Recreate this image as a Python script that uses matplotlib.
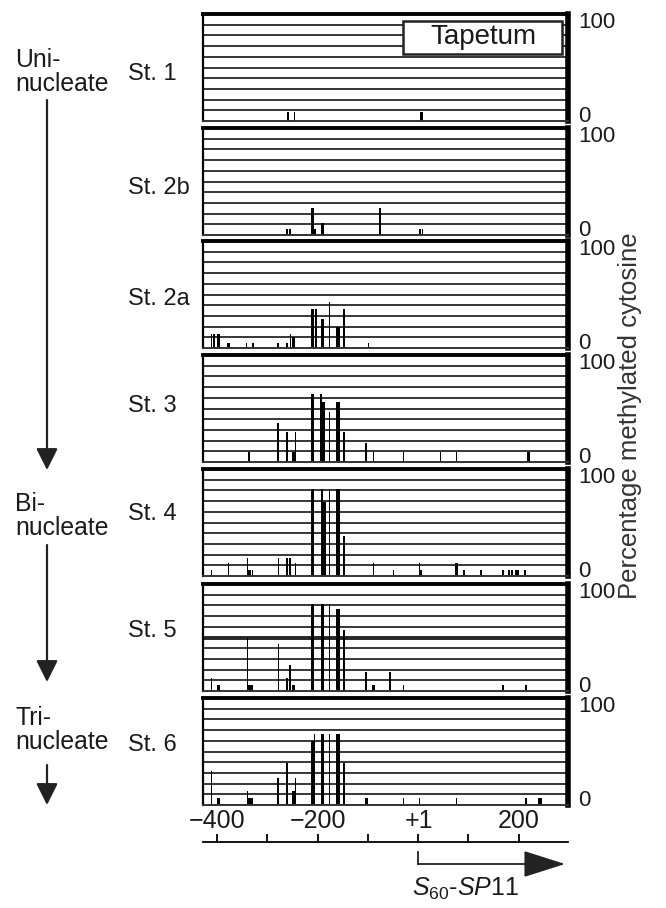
import matplotlib
matplotlib.use("Agg")
import matplotlib.pyplot as plt
from matplotlib.patches import Rectangle, FancyArrowPatch
from matplotlib.lines import Line2D
from matplotlib.transforms import blended_transform_factory

plt.rcParams['font.family'] = ['Liberation Sans', 'DejaVu Sans']
plt.rcParams['mathtext.fontset'] = 'custom'
plt.rcParams['mathtext.it'] = 'Liberation Sans:italic'
plt.rcParams['mathtext.rm'] = 'Liberation Sans'

# ---------------- data ----------------
stages = ["St. 1", "St. 2b", "St. 2a", "St. 3", "St. 4", "St. 5", "St. 6"]
groups = ["Uni-\nnucleate", "Bi-\nnucleate", "Tri-\nnucleate"]

st1_pos = [-259, -246, 5, 8]
st1_pct = [8, 8, 8, 8]

st2b_pos = [-261, -255, -212, -209, -205, -191, -188, -76, 4, 9]
st2b_pct = [6, 6, 25, 25, 6, 11, 11, 25, 6, 6]

st2a_pos = [-411, -406, -399, -396, -379, -376, -341, -329, -279, -261, -254,
            -249, -246, -212, -209, -203, -191, -188, -176, -161, -157, -148, -99]
st2a_pct = [13, 13, 13, 13, 5, 5, 5, 5, 5, 5, 13,
            10, 10, 36, 36, 36, 27, 27, 43, 20, 20, 36, 5]

st3_pos = [-337, -279, -261, -249, -246, -244, -212, -209, -193, -189, -186,
           -176, -161, -157, -148, -104, -89, -29, 44, 76, 217, 220]
st3_pct = [9, 36, 28, 9, 9, 28, 64, 64, 64, 56, 56,
           47, 56, 56, 28, 18, 9, 9, 9, 9, 9, 9]

st4_pos = [-411, -377, -339, -337, -334, -330, -278, -261, -255, -244, -212, -209,
           -191, -188, -185, -176, -161, -157, -148, -89, -49, 3, 6, 74, 77, 91,
           125, 169, 181, 187, 194, 197, 200, 212]
st4_pct = [6, 12, 17, 6, 6, 6, 17, 17, 17, 12, 81, 81,
           81, 69, 69, 81, 81, 81, 37, 12, 6, 12, 6, 12, 12, 6,
           6, 6, 6, 6, 6, 6, 6, 6]

st5_pos = [-411, -399, -396, -339, -336, -333, -330, -278, -261, -255, -249, -246,
           -212, -209, -191, -188, -176, -161, -157, -148, -104, -90, -87, -56,
           -29, 169, 214]
st5_pct = [12, 6, 6, 50, 6, 6, 6, 44, 12, 24, 6, 6,
           81, 81, 81, 81, 81, 77, 77, 57, 18, 6, 6, 18,
           6, 6, 6]

st6_pos = [-411, -399, -396, -339, -336, -333, -330, -279, -261, -249, -246, -244,
           -212, -209, -206, -191, -188, -176, -161, -157, -148, -104, -101, -29,
           3, 76, 214, 240, 244]
st6_pct = [32, 7, 7, 13, 7, 7, 7, 25, 39, 13, 13, 25,
           60, 60, 66, 66, 66, 66, 66, 66, 39, 7, 7, 7,
           7, 7, 7, 7, 7]

all_pos = [st1_pos, st2b_pos, st2a_pos, st3_pos, st4_pos, st5_pos, st6_pos]
all_pct = [st1_pct, st2b_pct, st2a_pct, st3_pct, st4_pct, st5_pct, st6_pct]

x_ticks_all = [-400, -200, 1, 200]
x_tick_labels = ["\u2212400", "\u2212200", "+1", "200"]
scale_ticks = [-400, -300, -200, -100, 0, 100, 200]
y_label = "Percentage methylated cytosine"

# ---------------- layout ----------------
W, H = 666, 908
fig = plt.figure(figsize=(W / 100, H / 100), dpi=100)


def px_rect(x0, y0, x1, y1):
    return [x0 / W, 1 - y1 / H, (x1 - x0) / W, (y1 - y0) / H]


XL, XR = 203, 568
tops = [14, 128, 241, 355, 469, 584, 698]
stage_y = [74, 188, 299, 406, 514, 631, 745]
ph = 107
xlim = (-428, 298)
ink = '#1a1a1a'

axes = []
for i, (pos, pct) in enumerate(zip(all_pos, all_pct)):
    ax = fig.add_axes(px_rect(XL, tops[i], XR, tops[i] + ph))
    axes.append(ax)
    ax.set_xlim(*xlim)
    ax.set_ylim(0, 100)
    for g in range(10, 100, 10):
        lw = 2.8 if (i == 5 and g == 50) else 1.3
        ax.axhline(g, color='#262626', lw=lw, zorder=1)
    ax.bar(pos, pct, width=3.0, bottom=0, color='black', linewidth=0, zorder=2)
    ax.spines['top'].set_linewidth(2.8)
    ax.spines['right'].set_linewidth(4.0)
    ax.spines['left'].set_linewidth(1.6)
    ax.spines['bottom'].set_linewidth(1.4)
    ax.spines['bottom'].set_color('#333333')
    ax.set_yticks([])
    # right-hand 0 / 100 labels
    ax.annotate("100", xy=(1, 1), xycoords='axes fraction', xytext=(10, -6),
                textcoords='offset pixels', ha='left', va='center_baseline',
                fontsize=16, color=ink)
    ax.annotate("0", xy=(1, 0), xycoords='axes fraction', xytext=(10, 7),
                textcoords='offset pixels', ha='left', va='center_baseline',
                fontsize=16, color=ink)
    if i < 6:
        ax.set_xticks([])
    else:
        ax.set_xticks(x_ticks_all)
        ax.set_xticklabels(x_tick_labels)
        ax.tick_params(axis='x', length=0, pad=3, labelsize=18, labelcolor=ink)
    fig.text(128 / W, 1 - stage_y[i] / H, stages[i], fontsize=17,
             ha='left', va='center', color=ink)

# Tapetum box
axes[0].add_patch(Rectangle((0.548, 0.627), 0.436, 0.308, transform=axes[0].transAxes,
                            fc='white', ec='#222222', lw=1.8, zorder=5))
axes[0].text(0.767, 0.785, "Tapetum", transform=axes[0].transAxes, fontsize=20,
             ha='center', va='center', color=ink, zorder=6)

# Left group labels
group_y = [72, 516, 730]
for gy, g in zip(group_y, groups):
    fig.text(15 / W, 1 - gy / H, g, fontsize=17.8, ha='left', va='center',
             color=ink, linespacing=0.95)

# Left arrows
arrow_spans = [(100, 470), (545, 682), (765, 805)]
for y0, y1 in arrow_spans:
    fig.add_artist(FancyArrowPatch(
        (47 / W, 1 - y0 / H), (47 / W, 1 - y1 / H), transform=fig.transFigure,
        arrowstyle='-|>,head_length=0.6,head_width=0.3', mutation_scale=22,
        lw=1.6, color='#222222', shrinkA=0, shrinkB=0))

# Y label
fig.text(630 / W, 1 - 416 / H, y_label, rotation=90,
         fontsize=18.5, ha='center', va='center', color='#333333')

# Scale bar
sax = fig.add_axes(px_rect(XL, 841, XR, 842))
sax.set_xlim(*xlim)
sax.set_ylim(0, 1)
for s in ['top', 'left', 'right']:
    sax.spines[s].set_visible(False)
sax.spines['bottom'].set_linewidth(1.3)
sax.set_yticks([])
sax.set_xticks(scale_ticks)
sax.set_xticklabels([])
sax.tick_params(axis='x', direction='in', length=6, width=1.3)

tr = blended_transform_factory(sax.transData, fig.transFigure)
fig.add_artist(Line2D([0, 0], [1 - 852 / H, 1 - 864 / H],
                      transform=tr, color='#222222', lw=1.3))
fig.add_artist(FancyArrowPatch(
    (0, 1 - 864 / H), (292, 1 - 864 / H), transform=tr,
    arrowstyle='-|>,head_length=1.1,head_width=0.35', mutation_scale=24,
    lw=1.3, color='#222222', shrinkA=0, shrinkB=0))
fig.text(466 / W, 1 - 889 / H, r'$\mathit{S}_{\mathit{60}}$-$\mathit{SP11}$',
         fontsize=18, ha='center', va='center', color=ink)

fig.savefig("out.png", dpi=100)
